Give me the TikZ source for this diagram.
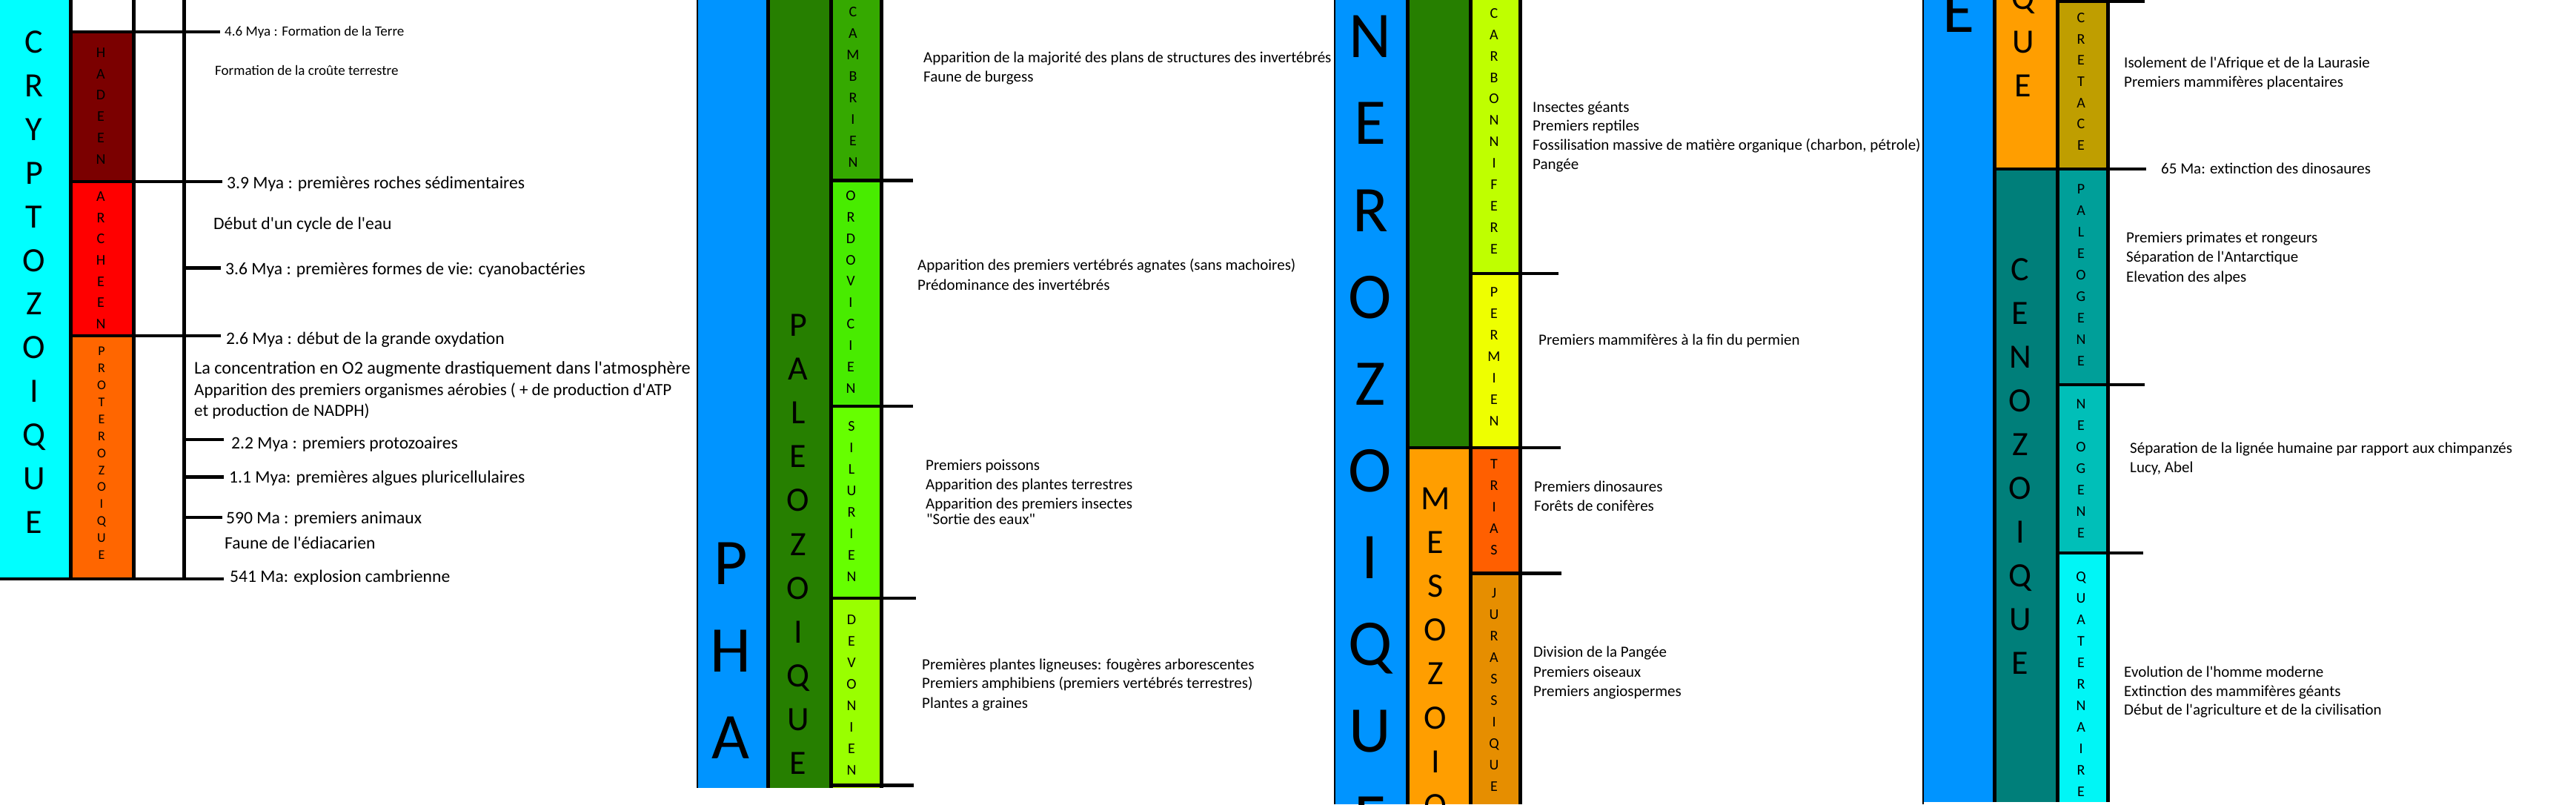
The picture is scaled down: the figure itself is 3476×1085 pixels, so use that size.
\documentclass[tikz,border=0pt]{standalone}
\usepackage{fontspec}
\setmainfont{Carlito}[Ligatures=TeXOff]
\definecolor{cryptocyan}{HTML}{00FFFF}
\definecolor{hadeen}{HTML}{7B0000}
\definecolor{archeen}{HTML}{FF0000}
\definecolor{protero}{HTML}{FF6600}
\definecolor{phanblue}{HTML}{0094FF}
\definecolor{paleogreen}{HTML}{267F00}
\definecolor{cambrien}{HTML}{35A900}
\definecolor{ordovicien}{HTML}{48EC00}
\definecolor{silurien}{HTML}{66FF00}
\definecolor{devonien}{HTML}{99FF00}
\definecolor{carbon}{HTML}{BFFF00}
\definecolor{permien}{HTML}{EEFF00}
\definecolor{meso}{HTML}{FF9E00}
\definecolor{trias}{HTML}{FF5F00}
\definecolor{jura}{HTML}{E68E00}
\definecolor{cretace}{HTML}{BF9E00}
\definecolor{ceno}{HTML}{007F7A}
\definecolor{paleogene}{HTML}{009F99}
\definecolor{neogene}{HTML}{00BFB8}
\definecolor{quat}{HTML}{00F6F6}
\newcommand{\letterstack}[7]{%
  \foreach \L [count=\i from 0] in {#7}{%
    \node[anchor=base, inner sep=0pt, font=\fontsize{#5}{#5}\selectfont] (#1\i) at (#2, {#3+\i*#4+#6}) {\L};
  }}
\tikzset{
  ev/.style={anchor=west, inner sep=0pt, font=\fontsize{21}{25}\selectfont, text height=13pt, text depth=0pt},
  evs/.style={anchor=west, inner sep=0pt, font=\fontsize{19}{23}\selectfont, text height=11.8pt, text depth=0pt},
  evb/.style={anchor=west, inner sep=0pt, font=\fontsize{23.6}{27}\selectfont, text height=14.6pt, text depth=0pt},
  evc/.style={anchor=west, inner sep=0pt, font=\fontsize{23}{27}\selectfont, text height=14.3pt, text depth=0pt},
  evd/.style={anchor=west, inner sep=0pt, font=\fontsize{24.2}{28}\selectfont, text height=14.6pt, text depth=0pt},
  vl/.style={line width=5pt, black},
  hl/.style={line width=4.5pt, black},
  thin border/.style={line width=2pt, black},
}
\begin{document}
\begin{tikzpicture}[x=1pt,y=-1pt]
\useasboundingbox (0,0) rectangle (3476,1085);
\clip (0,0) rectangle (3476,1085);
\fill[white] (0,0) rectangle (3476,1085);

% ---------------- Panel 1 : Cryptozoique ----------------
\fill[cryptocyan] (0,0) rectangle (95.5,781);
\fill[hadeen] (95.5,43) rectangle (180.5,245);
\fill[archeen] (95.5,245) rectangle (180.5,452);
\fill[protero] (95.5,452) rectangle (180.5,781);
\letterstack{cry}{46}{57}{58.9}{46}{14.5}{C,R,Y,P,T,O,Z,O,I,Q,U,E}
\letterstack{had}{136}{71}{28.8}{20}{6.3}{H,A,D,E,E,N}
\letterstack{arc}{136}{265}{28.7}{20}{6.3}{A,R,C,H,E,E,N}
\letterstack{pro}{137}{474}{22.9}{18}{5.7}{P,R,O,T,E,R,O,Z,O,I,Q,U,E}
\draw[vl] (95.5,0) -- (95.5,781);
\draw[vl] (180.5,0) -- (180.5,781);
\draw[vl] (248.5,0) -- (248.5,781);
\draw[hl] (95.5,43) -- (297,43);
\draw[hl] (95.5,245) -- (300,245);
\draw[hl] (248.5,361.5) -- (298,361.5);
\draw[hl] (95.5,453) -- (298,453);
\draw[hl] (248.5,593) -- (302,593);
\draw[hl] (248.5,643.5) -- (302,643.5);
\draw[hl] (248.5,698) -- (300,698);
\draw[hl] (0,781) -- (302,781);
\node[evs] (t1)  at (303,43)  {4.6 Mya : Formation de la Terre};
\node[evs] (t2)  at (290,96)  {Formation de la croûte terrestre};
\node[evb] (t3)  at (306,247) {3.9 Mya : premières roches sédimentaires};
\node[evb] (t4)  at (288,302) {Début d'un cycle de l'eau};
\node[evb] (t5)  at (304,363) {3.6 Mya : premières formes de vie: cyanobactéries};
\node[evb] (t6)  at (305,457) {2.6 Mya : début de la grande oxydation};
\node[evd] (t7)  at (262,497) {La concentration en O2 augmente drastiquement dans l'atmosphère};
\node[evc] (t8)  at (262,526) {Apparition des premiers organismes aérobies ( + de production d'ATP};
\node[evc] (t9)  at (262,554) {et production de NADPH)};
\node[evb] (t10) at (312,598) {2.2 Mya : premiers protozoaires};
\node[evb] (t11) at (309,644) {1.1 Mya: premières algues pluricellulaires};
\node[evb] (t12) at (305,699) {590 Ma : premiers animaux};
\node[evb] (t13) at (303,733) {Faune de l'édiacarien};
\node[evb] (t14) at (310,778) {541 Ma: explosion cambrienne};

% ---------------- Panel 2 : Paleozoique ----------------
\fill[phanblue] (941,0) rectangle (1036.5,1063);
\fill[paleogreen] (1036.5,0) rectangle (1121.5,1063);
\fill[cambrien] (1121.5,0) rectangle (1189.5,244);
\fill[ordovicien] (1121.5,244) rectangle (1189.5,548);
\fill[silurien] (1121.5,548) rectangle (1189.5,807);
\fill[devonien] (1121.5,807) rectangle (1189.5,1059.5);
\fill[carbon] (1121.5,1059.5) rectangle (1189.5,1063);
\letterstack{pha}{986}{761}{117.5}{88}{27.8}{P,H,A}
\letterstack{pal}{1077}{439}{59.1}{46}{14.5}{P,A,L,E,O,Z,O,I,Q,U,E}
\letterstack{cam}{1151}{16}{29}{20}{6.3}{C,A,M,B,R,I,E,N}
\letterstack{ord}{1148}{264}{28.9}{20}{6.3}{O,R,D,O,V,I,C,I,E,N}
\letterstack{sil}{1149}{575}{29}{20}{6.3}{S,I,L,U,R,I,E,N}
\letterstack{dev}{1149}{836}{29}{20}{6.3}{D,E,V,O,N,I,E,N}
\draw[thin border] (941,0) -- (941,1063);
\draw[vl] (1036.5,0) -- (1036.5,1063);
\draw[vl] (1121.5,0) -- (1121.5,1063);
\draw[vl] (1189.5,0) -- (1189.5,1063);
\draw[hl] (1121.5,243.5) -- (1232,243.5);
\draw[hl] (1121.5,548) -- (1232,548);
\draw[hl] (1121.5,807) -- (1236,807);
\draw[hl] (1121.5,1059.5) -- (1233,1059.5);
\node[ev] (c1) at (1246,78)  {Apparition de la majorité des plans de structures des invertébrés};
\node[ev] (c2) at (1246,104) {Faune de burgess};
\node[ev] (o1) at (1238,358) {Apparition des premiers vertébrés agnates (sans machoires)};
\node[ev] (o2) at (1238,385) {Prédominance des invertébrés};
\node[ev] (s1) at (1249,628) {Premiers poissons};
\node[ev] (s2) at (1249,654) {Apparition des plantes terrestres};
\node[ev] (s3) at (1249,680) {Apparition des premiers insectes};
\node[ev] (s4) at (1250,701) {"Sortie des eaux"};
\node[ev] (d1) at (1244,897) {Premières plantes ligneuses: fougères arborescentes};
\node[ev] (d2) at (1244,922) {Premiers amphibiens (premiers vertébrés terrestres)};
\node[ev] (d3) at (1244,949) {Plantes a graines};

% ---------------- Panel 3 ----------------
\fill[phanblue] (1801,0) rectangle (1899,1085);
\fill[paleogreen] (1899,0) rectangle (1984,604);
\fill[meso] (1899,604) rectangle (1984,1085);
\fill[carbon] (1984,0) rectangle (2051,369);
\fill[permien] (1984,369) rectangle (2051,604);
\fill[trias] (1984,604) rectangle (2051,773.5);
\fill[jura] (1984,773.5) rectangle (2051,1085);
\letterstack{ner}{1849}{50}{117.1}{88}{27.8}{N,E,R,O,Z,O,I,Q,U,E}
\letterstack{mes}{1937}{673}{59.1}{46}{14.5}{M,E,S,O,Z,O,I,Q}
\letterstack{car}{2016}{18}{28.9}{20}{6.3}{C,A,R,B,O,N,N,I,F,E,R,E}
\letterstack{per}{2016}{394}{29}{20}{6.3}{P,E,R,M,I,E,N}
\letterstack{tri}{2016}{626}{29}{20}{6.3}{T,R,I,A,S}
\letterstack{jur}{2016}{800}{29}{20}{6.3}{J,U,R,A,S,S,I,Q,U,E}
\draw[thin border] (1801,0) -- (1801,1085);
\draw[vl] (1899,0) -- (1899,1085);
\draw[vl] (1984,0) -- (1984,1085);
\draw[vl] (2051,0) -- (2051,1085);
\draw[hl] (1984,369) -- (2103,369);
\draw[hl] (1899,604) -- (2106,604);
\draw[hl] (1984,773.5) -- (2107,773.5);
\node[ev] (k1) at (2068,145) {Insectes géants};
\node[ev] (k2) at (2068,170) {Premiers reptiles};
\node[ev] (k3) at (2068,196) {Fossilisation massive de matière organique (charbon, pétrole)};
\node[ev] (k4) at (2068,222) {Pangée};
\node[ev] (p1) at (2076,459) {Premiers mammifères à la fin du permien};
\node[ev] (r1) at (2070,657) {Premiers dinosaures};
\node[ev] (r2) at (2070,683) {Forêts de conifères};
\node[ev] (j1) at (2069,880) {Division de la Pangée};
\node[ev] (j2) at (2069,907) {Premiers oiseaux};
\node[ev] (j3) at (2069,933) {Premiers angiospermes};

% ---------------- Panel 4 ----------------
\fill[phanblue] (2595,0) rectangle (2691.5,1082);
\fill[meso] (2691.5,0) rectangle (2776.5,228);
\fill[ceno] (2691.5,228) rectangle (2776.5,1082);
\fill[cretace] (2776.5,0) rectangle (2844.5,228);
\fill[paleogene] (2776.5,228) rectangle (2844.5,519);
\fill[neogene] (2776.5,519) rectangle (2844.5,746);
\fill[quat] (2776.5,746) rectangle (2844.5,1082);
\letterstack{phe}{2643}{16}{117}{88}{27.8}{E}
\letterstack{que}{2730}{-2}{59}{46}{14.5}{Q,U,E}
\letterstack{cen}{2726}{364}{59}{46}{14.5}{C,E,N,O,Z,O,I,Q,U,E}
\letterstack{cre}{2808}{24}{28.7}{20}{6.3}{C,R,E,T,A,C,E}
\letterstack{pag}{2808}{255}{29}{20}{6.3}{P,A,L,E,O,G,E,N,E}
\letterstack{neo}{2808}{545}{29}{20}{6.3}{N,E,O,G,E,N,E}
\letterstack{qua}{2808}{778}{29}{20}{6.3}{Q,U,A,T,E,R,N,A,I,R,E}
\draw[thin border] (2595,0) -- (2595,1085);
\draw[vl] (2691.5,0) -- (2691.5,1082);
\draw[vl] (2776.5,0) -- (2776.5,1082);
\draw[vl] (2844.5,0) -- (2844.5,1082);
\draw[hl] (2776.5,2) -- (2894,2);
\draw[hl] (2691.5,228) -- (2896,228);
\draw[hl] (2776.5,519) -- (2894,519);
\draw[hl] (2776.5,746) -- (2892,746);
\node[ev] (x1) at (2866,85)  {Isolement de l'Afrique et de la Laurasie};
\node[ev] (x2) at (2866,111) {Premiers mammifères placentaires};
\node[ev] (x3) at (2916,228) {65 Ma: extinction des dinosaures};
\node[ev] (g1) at (2869,321) {Premiers primates et rongeurs};
\node[ev] (g2) at (2869,347) {Séparation de l'Antarctique};
\node[ev] (g3) at (2869,374) {Elevation des alpes};
\node[ev] (n1) at (2874,605) {Séparation de la lignée humaine par rapport aux chimpanzés};
\node[ev] (n2) at (2874,631) {Lucy, Abel};
\node[ev] (q1) at (2866,907) {Evolution de l'homme moderne};
\node[ev] (q2) at (2866,933) {Extinction des mammifères géants};
\node[ev] (q3) at (2866,958) {Début de l'agriculture et de la civilisation};
\end{tikzpicture}
\end{document}
